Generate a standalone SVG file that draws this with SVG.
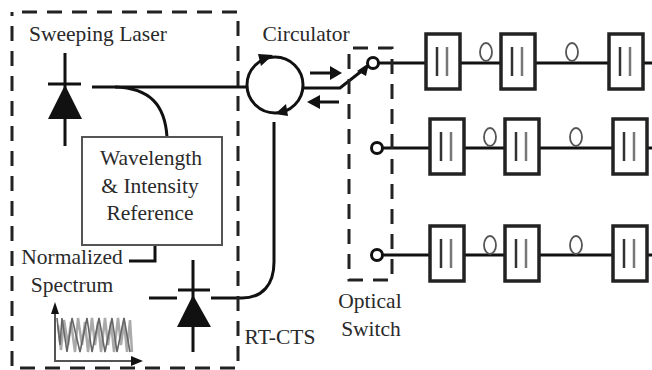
<svg xmlns="http://www.w3.org/2000/svg" width="652" height="370" viewBox="0 0 652 370">
<style>
.l{fill:none;stroke:#111;stroke-width:3}
.d{fill:none;stroke:#222;stroke-width:3;stroke-dasharray:15 10}
.b{fill:#fff;stroke:#222;stroke-width:3.5}
.o{fill:#fff;stroke:#555;stroke-width:1.8}
.f{fill:#111;stroke:none}
text{font-family:"Liberation Serif",serif;font-size:21.5px;fill:#2a2a2a;text-anchor:middle}
</style>
<defs>
<g id="fbg">
<rect class="b" x="0" y="0" width="34" height="55"/>
<path stroke="#333" stroke-width="2.5" fill="none" d="M11 13V42"/>
<path stroke="#777" stroke-width="2.5" fill="none" d="M21 13V42"/>
</g>
</defs>
<rect width="652" height="370" fill="#fff"/>
<g id="connectors">
<path class="l" d="M92 87H247"/>
<path class="l" d="M115 87C150 88 165 105 167 137"/>
<path class="l" d="M155 245V261H129"/>
<path class="l" d="M211 298H242C262 298 274 285 274 262V122"/>
<path class="l" d="M149 298H177"/>
<path class="l" d="M303 88H340L368 66"/>
<path class="l" d="M379 63H426M460 63H501M535 63H609M643 63H652"/>
<path class="l" d="M383 148H430M464 148H505M539 148H613M647 148H652"/>
<path class="l" d="M383 255H430M464 255H505M539 255H613M647 255H652"/>
<path class="l" d="M310 73H332" stroke-width="3.5"/>
<path class="f" d="M330 66L342 73L330 80Z"/>
<path class="l" d="M318 102H339" stroke-width="3.5"/>
<path class="f" d="M307 102L320 95V109Z"/>
<path class="f" d="M357 71L369 63L366 76Z"/>
</g>
<g id="sweeping-laser-box"><path class="d" d="M22 12H238V368H12V12"/></g>
<g id="optical-switch-box"><path class="d" d="M353 48H392V280H349V48" stroke-dasharray="15 10"/></g>
<g id="laser-diode">
<path class="l" d="M65 53V146M48 84H81"/>
<path class="f" d="M65 85L82 119H48Z"/>
<text x="98" y="41">Sweeping Laser</text>
</g>
<g id="circulator">
<circle class="l" cx="275" cy="85" r="28" stroke-width="3.5"/>
<path class="f" d="M273 55L261 66L258 54Z"/>
<path class="f" d="M275 114L286 104L288 116Z"/>
<text x="306" y="41">Circulator</text>
</g>
<g id="reference">
<rect x="82" y="137" width="140" height="108" fill="#fff" stroke="#555" stroke-width="2"/>
<text x="151" y="165">Wavelength</text>
<text x="150" y="193">&amp; Intensity</text>
<text x="150" y="220">Reference</text>
</g>
<g id="photodiode">
<path class="l" d="M193 260V352M178 290H210"/>
<path class="f" d="M193 295L211 327H177Z"/>
</g>
<g id="normalized-spectrum">
<text x="72" y="264">Normalized</text>
<text x="72" y="292">Spectrum</text>
<path d="M55 310V361H135" fill="none" stroke="#555" stroke-width="2"/>
<path class="f" d="M55 302L59 314H51ZM143 361L131 356V366Z"/>
<path d="M58 325L61 350L64 320L68 345L71 322L75 352L78 318L82 345L85 322L88 352L92 318L95 345L98 322L101 352L105 318L108 345L111 322L114 352L118 318L121 345L124 322L127 352L130 320L132 352" fill="none" stroke="#aaa" stroke-width="2.5"/>
<path d="M57 318L60 345L62 318L67 352L72 318L80 352L87 318L92 352L99 318L105 352L112 318L117 352L124 318L130 352" fill="none" stroke="#666" stroke-width="1.6"/>
</g>
<text x="280" y="344">RT-CTS</text>
<g id="switch-labels">
<text x="370" y="308">Optical</text>
<text x="371" y="336">Switch</text>
</g>
<g id="port-1"><circle cx="373" cy="63" r="5.5" fill="#fff" stroke="#111" stroke-width="3"/></g>
<g id="port-2"><circle cx="377" cy="148" r="5.5" fill="#fff" stroke="#111" stroke-width="3"/></g>
<g id="port-3"><circle cx="377" cy="255" r="5.5" fill="#fff" stroke="#111" stroke-width="3"/></g>
<g id="row-1">
<use href="#fbg" x="426" y="34"/><use href="#fbg" x="501" y="34"/><use href="#fbg" x="609" y="34"/>
<ellipse class="o" cx="486" cy="52" rx="6" ry="9"/><ellipse class="o" cx="572" cy="52" rx="6" ry="9"/>
</g>
<g id="row-2">
<use href="#fbg" x="430" y="119"/><use href="#fbg" x="505" y="119"/><use href="#fbg" x="613" y="119"/>
<ellipse class="o" cx="490" cy="137" rx="6" ry="9"/><ellipse class="o" cx="576" cy="137" rx="6" ry="9"/>
</g>
<g id="row-3">
<use href="#fbg" x="430" y="226"/><use href="#fbg" x="505" y="226"/><use href="#fbg" x="613" y="226"/>
<ellipse class="o" cx="490" cy="245" rx="6" ry="9"/><ellipse class="o" cx="576" cy="245" rx="6" ry="9"/>
</g>
</svg>
